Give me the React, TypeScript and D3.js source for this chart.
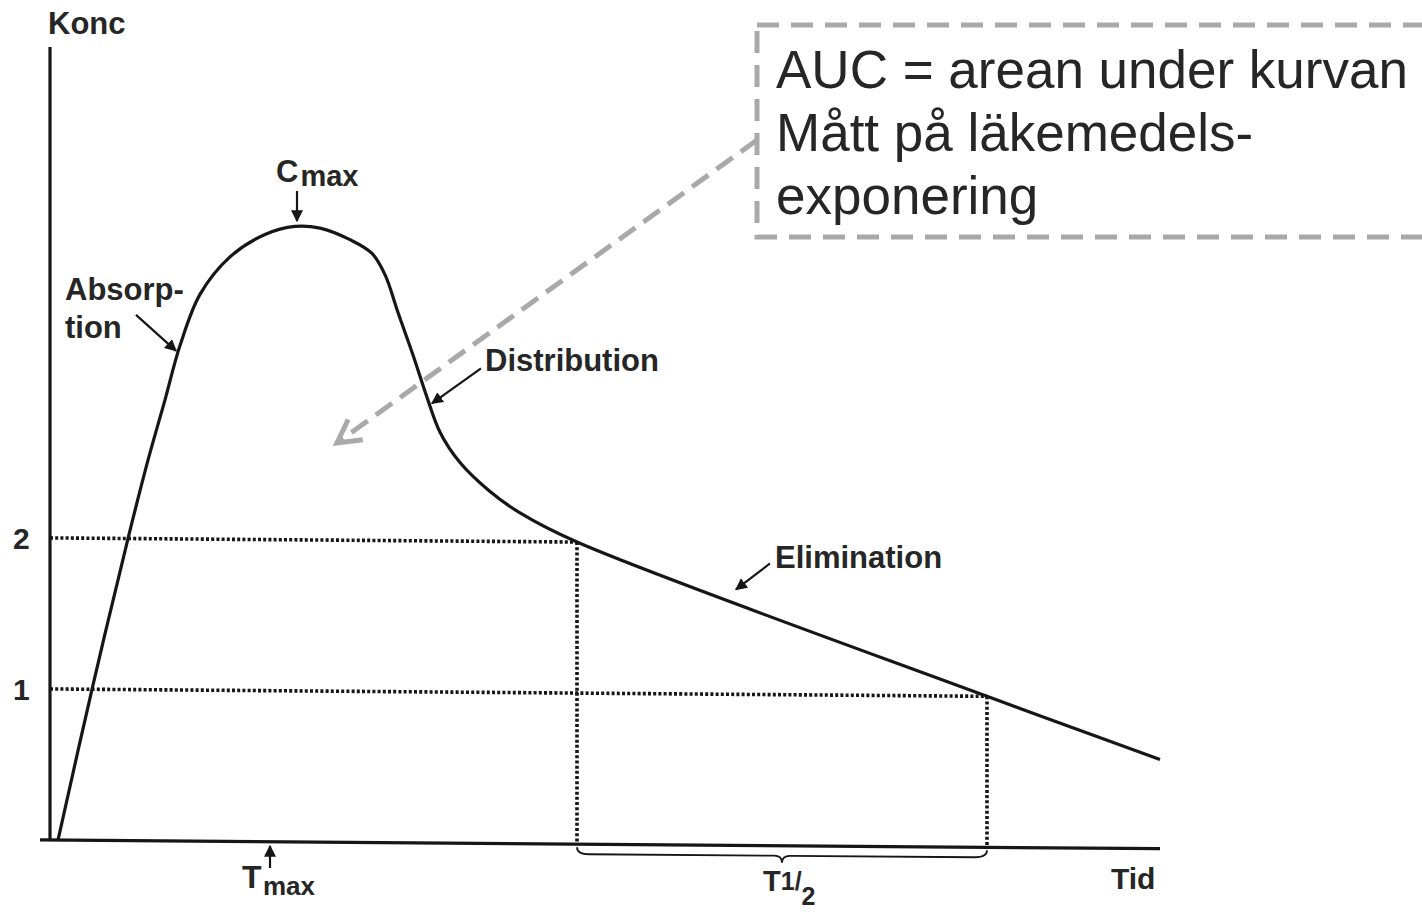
import * as d3 from "d3";

// Concentration curve (time in arbitrary units, concentration in arbitrary units)
const times = [0.08, 0.42, 0.78, 0.98, 1.15, 1.3, 1.5, 1.8, 2.15, 2.45, 2.7, 3.0, 3.22, 3.35, 3.48, 3.63, 3.77, 3.9, 4.1, 4.4, 4.7, 5.27, 9.37, 11.1];
const concs = [0, 1.0, 2.0, 2.52, 2.92, 3.28, 3.62, 3.87, 4.02, 4.075, 4.065, 3.99, 3.9, 3.76, 3.51, 3.23, 2.95, 2.72, 2.52, 2.33, 2.19, 2.0, 1.0, 0.59];

const yTickValues = [1, 2];
const halfLifeTimes = [5.27, 9.37]; // where the curve crosses 2 and 1
const tMaxMark = 2.2;
const phaseLabels = ["Absorption", "Distribution", "Elimination"];
const phaseTimes = [1.28, 3.8, 6.85];
const noteLines = ["AUC = arean under kurvan", "Mått på läkemedels-", "exponering"];

const W = 1422;
const H = 912;
const ink = "#161616";
const grey = "#a9a9a9";
const font = "'Liberation Sans', Arial, Helvetica, sans-serif";

export default function App() {
  const x = d3.scaleLinear().domain([0, 11.1]).range([50, 1160]);
  const y = d3.scaleLinear().domain([0, 5.25]).range([840, 47]);
  const concAt = d3.scaleLinear().domain(times).range(concs);

  const line = d3
    .line<number>()
    .x((_, i) => x(times[i]))
    .y((d) => y(d))
    .curve(d3.curveCatmullRom.alpha(0.5));

  // slight tilt of the scanned original
  const skew = `translate(${x(0)},${y(0)}) skewY(0.45) translate(${-x(0)},${-y(0)})`;
  const k = Math.tan((0.45 * Math.PI) / 180);
  const sy = (px: number, py: number) => py + k * (px - x(0));

  const tip = (t: number) => {
    const px = x(t);
    return [px, sy(px, y(concAt(t)))];
  };
  const [aX, aY] = tip(phaseTimes[0]);
  const [dX, dY] = tip(phaseTimes[1]);
  const [eX, eY] = tip(phaseTimes[2]);

  const [h1, h2] = halfLifeTimes;
  const x0 = x(0);
  const y0 = y(0);
  const bx1 = x(h1);
  const bx2 = x(h2);
  const bm = (bx1 + bx2) / 2;
  const brace = `M${bx1},${y0 + 3} Q${bx1},${y0 + 10} ${bx1 + 12},${y0 + 10} L${bm - 8},${y0 + 10} Q${bm},${y0 + 10} ${bm},${y0 + 17} Q${bm},${y0 + 10} ${bm + 8},${y0 + 10} L${bx2 - 12},${y0 + 10} Q${bx2},${y0 + 10} ${bx2},${y0 + 3}`;

  // AUC pointer
  const p0 = [757, 140];
  const p1 = [337, 443];
  const ang = Math.atan2(p0[1] - p1[1], p0[0] - p1[0]);
  const head = (a: number) => [p1[0] + 26 * Math.cos(ang + a), p1[1] + 26 * Math.sin(ang + a)];
  const hA = head(0.5);
  const hB = head(-0.5);

  const textStyle = { fontFamily: font, fill: "#262626", fontWeight: 700 };

  return (
    <svg width={W} height={H} style={{ position: "absolute", left: 0, top: 0, background: "#fff" }}>
      <defs>
        <marker id="ah" viewBox="0 0 10 10" refX="9" refY="5" markerWidth="12" markerHeight="12" markerUnits="userSpaceOnUse" orient="auto">
          <path d="M0,0 L10,5 L0,10 z" fill={ink} />
        </marker>
      </defs>

      <g transform={skew}>
        {/* dotted guides */}
        <g stroke={ink} strokeWidth={3.6} strokeDasharray="3 2.2" fill="none">
          {yTickValues.map((v, i) => (
            <line key={v} x1={x0} x2={x(halfLifeTimes[1 - i])} y1={y(v)} y2={y(v)} />
          ))}
          {halfLifeTimes.map((t, i) => (
            <line key={t} x1={x(t)} x2={x(t)} y1={y(2 - i)} y2={y0} />
          ))}
        </g>

        {/* axes */}
        <line x1={x0} x2={x0} y1={y(5.25)} y2={y0 + 1} stroke={ink} strokeWidth={3.2} />
        <line x1={x(-0.1)} x2={x(11.1)} y1={y0} y2={y0} stroke={ink} strokeWidth={3.2} />

        {/* curve */}
        <path d={line(concs) ?? ""} fill="none" stroke={ink} strokeWidth={3.2} strokeLinejoin="round" />

        {/* half-life brace */}
        <path d={brace} fill="none" stroke={ink} strokeWidth={1.8} />
      </g>

      {/* axis labels */}
      <text x={48} y={34} fontSize={31} {...textStyle}>Konc</text>
      <text x={1111} y={889} fontSize={30} {...textStyle}>Tid</text>
      {yTickValues.map((v) => (
        <text key={v} x={13} y={y(v) + 11} fontSize={30} {...textStyle}>{v}</text>
      ))}

      {/* Cmax */}
      <text x={276} y={182} fontSize={31} {...textStyle}>
        C<tspan dy={4} dx={2} fontSize={29}>max</tspan>
      </text>
      <line x1={297} x2={297} y1={191} y2={221} stroke={ink} strokeWidth={2.2} markerEnd="url(#ah)" />

      {/* Tmax */}
      <line x1={x(tMaxMark)} x2={x(tMaxMark)} y1={868} y2={846} stroke={ink} strokeWidth={2.2} markerEnd="url(#ah)" />
      <text x={242} y={888} fontSize={32} {...textStyle}>T</text>
      <text x={263} y={895} fontSize={26} {...textStyle}>max</text>

      {/* T1/2 */}
      <text x={763} y={891} fontSize={29} {...textStyle}>
        T<tspan fontSize={25} dy={-1}>1</tspan>
        <tspan fontSize={25}>/</tspan>
        <tspan fontSize={25} dy={15}>2</tspan>
      </text>

      {/* phase labels */}
      <text x={aX - 113} y={aY - 53} fontSize={31} {...textStyle}>Absorp-</text>
      <text x={aX - 113} y={aY - 15} fontSize={31} {...textStyle}>tion</text>
      <line x1={aX - 42} x2={aX - 2} y1={aY - 38} y2={aY - 2} stroke={ink} strokeWidth={2.2} markerEnd="url(#ah)" />

      <text x={dX + 55} y={dY - 34} fontSize={31} {...textStyle}>{phaseLabels[1]}</text>
      <line x1={dX + 51} x2={dX + 2} y1={dY - 37} y2={dY - 2} stroke={ink} strokeWidth={2.2} markerEnd="url(#ah)" />

      <text x={eX + 40} y={eY - 33} fontSize={31} {...textStyle}>{phaseLabels[2]}</text>
      <line x1={eX + 35} x2={eX + 1} y1={eY - 38} y2={eY - 12} stroke={ink} strokeWidth={2.2} markerEnd="url(#ah)" />

      {/* AUC note */}
      <rect x={757} y={25} width={720} height={212} fill="none" stroke={grey} strokeWidth={5} strokeDasharray="22 12" />
      {noteLines.map((s, i) => (
        <text key={s} x={776} y={88 + i * 63} fontSize={53} fontFamily={font} fill="#262626">{s}</text>
      ))}
      <line x1={p0[0]} y1={p0[1]} x2={p1[0]} y2={p1[1]} stroke={grey} strokeWidth={5} strokeDasharray="20 10" />
      <path d={`M${hA[0]},${hA[1]} L${p1[0]},${p1[1]} L${hB[0]},${hB[1]}`} fill="none" stroke={grey} strokeWidth={5} />
    </svg>
  );
}
